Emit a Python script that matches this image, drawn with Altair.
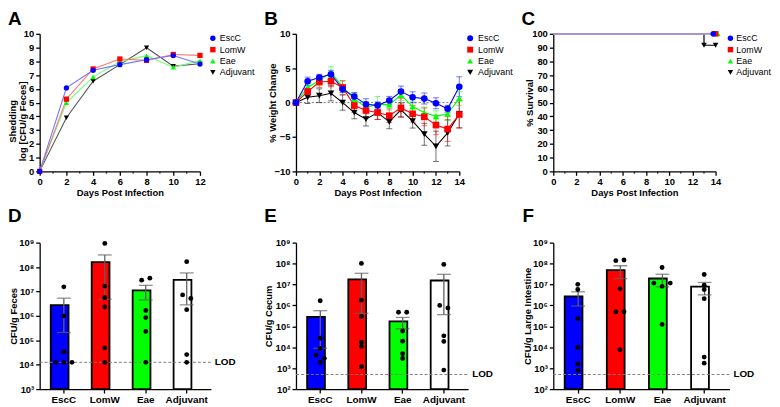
import altair as alt
import pandas as pd
import numpy as np

FONT = "Liberation Sans"
SERIES = ["EscC", "LomW", "Eae", "Adjuvant"]
COLORS = ["#0000ff", "#ff0000", "#00ff00", "#000000"]
LINE_COLORS = ["#7474ff", "#ff7474", "#74ff74", "#555555"]
LINE_COLORS_C = ["#8c8cff", "#ff8c8c", "#8cff8c", "#000000"]
BAR_FILLS = ["#0000ff", "#ff0000", "#00ff00", "#ffffff"]
SHAPES = ["circle", "square", "triangle-up", "triangle-down"]
DRAW_ORDER = ["Adjuvant", "Eae", "LomW", "EscC"]

# ---------------- Panel A: shedding (log CFU/g feces)
shed_days = [0, 2, 4, 6, 8, 10, 12]
shed_escc = [0, 6.07, 7.35, 7.76, 8.12, 8.42, 7.80]
shed_lomw = [0, 5.25, 7.45, 8.17, 8.07, 8.50, 8.43]
shed_eae = [0, 4.99, 6.87, 7.98, 8.41, 7.57, 8.05]
shed_adj = [0, 3.90, 6.55, 7.76, 8.99, 7.65, 7.82]
minor_days_a = [1, 3, 5, 7, 9, 11]

# ---------------- Panel B: % weight change (mean +/- SEM)
wt_days = list(range(15))
wt_escc = [0, 3.1, 3.65, 4.1, 1.97, 0.87, -0.24, -0.4, 0.3, 1.6, 0.77, 0.58, -0.1, -0.9, 2.3]
wt_escc_err = [0, 0.6, 0.45, 0.6, 0.5, 0.6, 0.8, 0.5, 0.6, 0.8, 0.8, 0.8, 0.8, 0.5, 1.45]
wt_lomw = [0, 1.6, 3.0, 3.1, 2.2, -0.43, -1.15, -1.45, -1.9, -0.77, -1.63, -2.07, -3.27, -3.85, -1.73]
wt_lomw_err = [0, 0.5, 0.8, 0.8, 1.0, 1.0, 1.0, 1.0, 1.0, 1.4, 1.2, 1.3, 1.4, 1.8, 2.0]
wt_eae = [0, 2.2, 3.2, 4.4, 2.3, 0.5, -0.67, -0.3, -0.3, 1.1, -0.58, -1.45, -2.0, -1.63, 0.6]
wt_eae_err = [0, 0.5, 0.7, 0.8, 0.8, 0.8, 0.8, 1.2, 0.8, 0.8, 0.8, 0.8, 0.8, 1.0, 1.0]
wt_adj = [0, 0.77, 1.0, 1.35, 0.0, -1.45, -2.4, -1.45, -2.8, -1.05, -2.7, -4.6, -6.35, -4.4, -1.65]
wt_adj_err = [0, 0.9, 1.0, 1.1, 1.1, 0.9, 1.0, 1.0, 1.0, 1.0, 1.0, 1.6, 2.2, 1.9, 2.0]
minor_days_b = [1, 3, 5, 7, 9, 11, 13]

# ---------------- Panel C: survival
surv_days = {"EscC": [0, 14], "LomW": [0, 14], "Eae": [0, 14], "Adjuvant": [0, 13, 14]}
surv_pct = {"EscC": [100, 100], "LomW": [100, 100], "Eae": [100, 100], "Adjuvant": [100, 91.7, 91.7]}
mark_series = ["Adjuvant", "Adjuvant", "Eae", "LomW", "EscC"]
mark_days = [13, 14, 14.2, 14.0, 13.8]
mark_pct = [91.7, 91.7, 100, 100, 100]

# ---------------- Panels D, E, F: CFU per animal
feces = {
    "EscC": [1.55e7, 1.0e6, 3.3e4, 1.25e4, 1.25e4, 1.25e4],
    "LomW": [9.3e8, 1.66e7, 5.5e6, 2.3e6, 4.9e4, 1.25e4],
    "Eae": [2.9e7, 3.5e7, 1.66e6, 8.5e5, 2.3e5, 1.25e4],
    "Adjuvant": [1.66e8, 7.2e6, 5.2e6, 1.8e6, 2.6e4, 1.25e4],
}
cecum = {
    "EscC": [1.66e6, 2.7e4, 8.7e3, 4.2e3, 2.95e3, 1.86e3],
    "LomW": [1.02e8, 1.78e6, 2.95e5, 1.74e4, 1.1e4, 1.17e3],
    "Eae": [4.7e5, 4.7e5, 6.0e4, 1.95e4, 4.9e3, 2.9e3],
    "Adjuvant": [9.1e7, 1.0e6, 7.6e5, 3.5e4, 1.9e4, 8.1e2],
}
large_int = {
    "EscC": [1.02e7, 5.75e6, 2.3e5, 9.8e3, 1.6e3, 7.6e2],
    "LomW": [1.38e8, 1.48e8, 6.2e6, 5.0e5, 5.0e5, 7.6e3],
    "Eae": [6.5e7, 1.17e7, 8.1e6, 1.17e7, 1.23e5],
    "Adjuvant": [3.0e7, 9.3e6, 5.75e6, 2.1e6, 3.4e3, 1.74e3],
}
lod_feces = 1.25e4
lod_cecum = 5.0e2
lod_li = 5.0e2

# ---------------- layout sizes
W_A, W_B, W_C = 162, 165, 164
W_D, W_E, W_F = 173, 174, 178
H1, H2 = 139, 148
LEG_ROWS = [4.5, 16, 27.5, 39]

sc_col = alt.Scale(domain=SERIES, range=COLORS)
sc_line = alt.Scale(domain=SERIES, range=LINE_COLORS)
sc_line_c = alt.Scale(domain=SERIES, range=LINE_COLORS_C)
sc_shape = alt.Scale(domain=SERIES, range=SHAPES)


def long_df(days, values, errs=None):
    rows = []
    for s in DRAW_ORDER:
        for i, d in enumerate(days):
            r = {"day": d, "val": values[s][i], "series": s}
            if errs is not None:
                r["err"] = errs[s][i]
                r["lo"] = values[s][i] - errs[s][i]
                r["hi"] = values[s][i] + errs[s][i]
            rows.append(r)
    return pd.DataFrame(rows)


def letter(ch, x, y):
    return alt.Chart(pd.DataFrame({"t": [ch]})).mark_text(
        align="left", baseline="top", fontSize=19, fontWeight="bold", font=FONT, color="black"
    ).encode(text="t:N", x=alt.value(x), y=alt.value(y))


def legend(W, sx, tx, size):
    out = []
    for i, s in enumerate(SERIES):
        d = pd.DataFrame({"s": [s]})
        out.append(alt.Chart(d).mark_point(
            filled=True, shape=SHAPES[i], size=size, color=COLORS[i], opacity=1, strokeWidth=0
        ).encode(x=alt.value(W + sx), y=alt.value(LEG_ROWS[i])))
        out.append(alt.Chart(d).mark_text(
            align="left", baseline="middle", fontSize=9, font=FONT, color="black"
        ).encode(text="s:N", x=alt.value(W + tx), y=alt.value(LEG_ROWS[i])))
    return out


def minor_ticks(days, xs, xax, H):
    return alt.Chart(pd.DataFrame({"day": days})).mark_tick(
        orient="vertical", size=2.5, thickness=1.3, color="black"
    ).encode(x=alt.X("day:Q", scale=xs, axis=xax), y=alt.value(H + 1.25))


def days_axis(maxd):
    return alt.Axis(values=list(range(0, maxd + 1, 2)), title="Days Post Infection",
                    titleY=21, titleBaseline="middle", labelPadding=1)


# ---------------- Panel A
xA = alt.Scale(domain=[0, 12], nice=False)
yA = alt.Scale(domain=[0, 10], nice=False)
axA_x = days_axis(12)
axA_y = alt.Axis(values=list(range(0, 11)), title=["Shedding", "log [CFU/g Feces]"],
                 titleX=-27, titleY=88, titleBaseline="middle", titleAlign="center", titleLineHeight=9.5)
dfA = long_df(shed_days, {"EscC": shed_escc, "LomW": shed_lomw, "Eae": shed_eae, "Adjuvant": shed_adj})
A_line = alt.Chart(dfA).mark_line(strokeWidth=1.1).encode(
    x=alt.X("day:Q", scale=xA, axis=axA_x),
    y=alt.Y("val:Q", scale=yA, axis=axA_y),
    stroke=alt.Stroke("series:N", scale=sc_line, legend=None),
)
A_pts = alt.Chart(dfA).mark_point(filled=True, size=28, opacity=1, strokeWidth=0).encode(
    x=alt.X("day:Q", scale=xA, axis=axA_x),
    y=alt.Y("val:Q", scale=yA, axis=axA_y),
    color=alt.Color("series:N", scale=sc_col, legend=None),
    shape=alt.Shape("series:N", scale=sc_shape, legend=None),
)
panelA = alt.layer(A_line, minor_ticks(minor_days_a, xA, axA_x, H1), A_pts,
                   *legend(W_A, 13, 20, 30), letter("A", -32, -24)).properties(width=W_A, height=H1)

# ---------------- Panel B
xB = alt.Scale(domain=[0, 14], nice=False)
yB = alt.Scale(domain=[-10, 10], nice=False)
axB_x = days_axis(14)
axB_y = alt.Axis(values=[-10, -5, 0, 5, 10], title="% Weight Change",
                 titleX=-24, titleY=H1 / 2, titleBaseline="middle", titleAlign="center")
dfB = long_df(wt_days,
              {"EscC": wt_escc, "LomW": wt_lomw, "Eae": wt_eae, "Adjuvant": wt_adj},
              {"EscC": wt_escc_err, "LomW": wt_lomw_err, "Eae": wt_eae_err, "Adjuvant": wt_adj_err})
dfB_err = dfB[dfB["err"] > 0]
B_zero = alt.Chart(pd.DataFrame({"val": [0]})).mark_rule(
    strokeDash=[2, 2], color="#777777", strokeWidth=1
).encode(y=alt.Y("val:Q", scale=yB, axis=axB_y), x=alt.value(0), x2=alt.value(W_B))
B_err = alt.Chart(dfB_err).mark_rule(strokeWidth=1, opacity=0.55).encode(
    x=alt.X("day:Q", scale=xB, axis=axB_x),
    y=alt.Y("lo:Q", scale=yB, axis=axB_y), y2="hi:Q",
    color=alt.Color("series:N", scale=sc_col, legend=None),
)
B_cap_lo = alt.Chart(dfB_err).mark_tick(orient="horizontal", size=6, thickness=1, opacity=0.55).encode(
    x=alt.X("day:Q", scale=xB, axis=axB_x),
    y=alt.Y("lo:Q", scale=yB, axis=axB_y),
    color=alt.Color("series:N", scale=sc_col, legend=None),
)
B_cap_hi = alt.Chart(dfB_err).mark_tick(orient="horizontal", size=6, thickness=1, opacity=0.55).encode(
    x=alt.X("day:Q", scale=xB, axis=axB_x),
    y=alt.Y("hi:Q", scale=yB, axis=axB_y),
    color=alt.Color("series:N", scale=sc_col, legend=None),
)
B_line = alt.Chart(dfB).mark_line(strokeWidth=1.1).encode(
    x=alt.X("day:Q", scale=xB, axis=axB_x),
    y=alt.Y("val:Q", scale=yB, axis=axB_y),
    color=alt.Color("series:N", scale=sc_col, legend=None),
)
B_pts = alt.Chart(dfB).mark_point(filled=True, size=45, opacity=1, strokeWidth=0).encode(
    x=alt.X("day:Q", scale=xB, axis=axB_x),
    y=alt.Y("val:Q", scale=yB, axis=axB_y),
    color=alt.Color("series:N", scale=sc_col, legend=None),
    shape=alt.Shape("series:N", scale=sc_shape, legend=None),
)
panelB = alt.layer(B_zero, B_err, B_cap_lo, B_cap_hi, B_line, minor_ticks(minor_days_b, xB, axB_x, H1), B_pts,
                   *legend(W_B, 11, 19, 36), letter("B", -32, -24)).properties(width=W_B, height=H1)

# ---------------- Panel C
xC = alt.Scale(domain=[0, 14], nice=False)
yC = alt.Scale(domain=[0, 100], nice=False)
axC_x = days_axis(14)
axC_y = alt.Axis(values=list(range(0, 101, 10)), title="% Survival",
                 titleX=-24, titleY=H1 / 2, titleBaseline="middle", titleAlign="center")
rowsC = []
for s in DRAW_ORDER:
    for d, p in zip(surv_days[s], surv_pct[s]):
        rowsC.append({"day": d, "pct": p, "series": s})
dfC = pd.DataFrame(rowsC)
dfCm = pd.DataFrame({"day": mark_days, "pct": mark_pct, "series": mark_series})
C_line = alt.Chart(dfC).mark_line(interpolate="step-after", strokeWidth=1.2).encode(
    x=alt.X("day:Q", scale=xC, axis=axC_x),
    y=alt.Y("pct:Q", scale=yC, axis=axC_y),
    stroke=alt.Stroke("series:N", scale=sc_line_c, legend=None),
)
C_pts = alt.Chart(dfCm).mark_point(filled=True, size=32, opacity=1, strokeWidth=0).encode(
    x=alt.X("day:Q", scale=xC, axis=axC_x),
    y=alt.Y("pct:Q", scale=yC, axis=axC_y),
    color=alt.Color("series:N", scale=sc_col, legend=None),
    shape=alt.Shape("series:N", scale=sc_shape, legend=None),
)
panelC = alt.layer(C_line, minor_ticks(minor_days_b, xC, axC_x, H1), C_pts,
                   *legend(W_C, 15, 21, 30), letter("C", -32, -24)).properties(width=W_C, height=H1)

# ---------------- Bar panels
SUP = ("'10' + ['\u2070','\u00b9','\u00b2','\u00b3','\u2074','\u2075','\u2076','\u2077','\u2078','\u2079']"
       "[round(log(datum.value)/LN10)]")


def dodge(vals, thr=0.17):
    logs = np.log10(np.array(vals, dtype=float))
    idx = list(np.argsort(logs, kind="stable"))
    offs = np.zeros(len(vals))
    clusters, cur = [], [idx[0]]
    for a, b in zip(idx[:-1], idx[1:]):
        if logs[b] - logs[a] < thr:
            cur.append(b)
        else:
            clusters.append(cur)
            cur = [b]
    clusters.append(cur)
    for c in clusters:
        c = sorted(c)
        n = len(c)
        for k, i in enumerate(c):
            offs[i] = k - (n - 1) / 2
    return offs


def bar_panel(vals, lod, ymin, W, H, title, title_x, ch, ch_x):
    rows = []
    for s in SERIES:
        offs = dodge(vals[s])
        for v, o in zip(vals[s], offs):
            rows.append({"series": s, "val": v, "off": o})
    pts = pd.DataFrame(rows)
    st = pts.groupby("series", sort=False)["val"].agg(["mean", "sem"]).reset_index()
    st["lo"] = np.maximum(st["mean"] - st["sem"], 10.0 ** ymin)
    st["hi"] = st["mean"] + st["sem"]
    st["base"] = 10.0 ** ymin

    ys = alt.Scale(type="log", domain=[10.0 ** ymin, 1e9])
    xs = alt.Scale(domain=SERIES, paddingInner=0.36, paddingOuter=0.27)
    ax_x = alt.Axis(title=None, labelAngle=0, labelFontSize=10, labelPadding=2)
    ax_y = alt.Axis(values=[10.0 ** k for k in range(ymin, 10)], labelExpr=SUP, title=title,
                    titleX=title_x, titleY=H / 2, titleBaseline="middle", titleAlign="center")
    X = alt.X("series:N", scale=xs, axis=ax_x)
    bars = alt.Chart(st).mark_bar(stroke="black", strokeWidth=1.8).encode(
        x=X,
        y=alt.Y("mean:Q", scale=ys, axis=ax_y),
        y2="base:Q",
        fill=alt.Fill("series:N", scale=alt.Scale(domain=SERIES, range=BAR_FILLS), legend=None),
    )
    lodd = pd.DataFrame({"lod": [lod]})
    lod_rule = alt.Chart(lodd).mark_rule(strokeDash=[3, 2], color="#808080", strokeWidth=1).encode(
        y=alt.Y("lod:Q", scale=ys, axis=ax_y), x=alt.value(0), x2=alt.value(W))
    lod_text = alt.Chart(lodd).mark_text(
        align="left", baseline="middle", fontSize=10, fontWeight="bold", font=FONT, color="black"
    ).encode(y=alt.Y("lod:Q", scale=ys, axis=ax_y), x=alt.value(W + 4), text=alt.value("LOD"))
    err = alt.Chart(st).mark_rule(color="#606060", strokeWidth=1.3).encode(
        x=X, y=alt.Y("lo:Q", scale=ys, axis=ax_y), y2="hi:Q")
    cap_lo = alt.Chart(st).mark_tick(orient="horizontal", size=14, thickness=1.3, color="#606060").encode(
        x=X, y=alt.Y("lo:Q", scale=ys, axis=ax_y))
    cap_hi = alt.Chart(st).mark_tick(orient="horizontal", size=14, thickness=1.3, color="#606060").encode(
        x=X, y=alt.Y("hi:Q", scale=ys, axis=ax_y))
    dots = alt.Chart(pts).mark_circle(size=24, color="black", opacity=1).encode(
        x=X,
        xOffset=alt.XOffset("off:Q", scale=alt.Scale(domain=[-1.6, 1.6])),
        y=alt.Y("val:Q", scale=ys, axis=ax_y))
    return alt.layer(bars, lod_rule, lod_text, err, cap_lo, cap_hi, dots,
                     letter(ch, ch_x, -36)).properties(width=W, height=H)


panelD = bar_panel(feces, lod_feces, 3, W_D, H2, "CFU/g Feces", -26, "D", -32)
panelE = bar_panel(cecum, lod_cecum, 2, W_E, H2, "CFU/g Cecum", -28, "E", -32)
panelF = bar_panel(large_int, lod_li, 2, W_F, H2, "CFU/g Large Intestine", -26, "F", -31)

chart = alt.concat(
    panelA, panelB, panelC, panelD, panelE, panelF,
    columns=3, spacing={"row": 72, "column": 86}, bounds="flush", align="each",
).resolve_scale(
    color="independent", stroke="independent", fill="independent", shape="independent"
).properties(padding=0).configure_view(strokeWidth=0).configure_axis(
    labelFont=FONT, labelFontSize=9.5, labelFontWeight="bold", labelColor="black",
    titleFont=FONT, titleFontSize=9.5, titleFontWeight="bold", titleColor="black",
    domainColor="black", domainWidth=1.3, tickColor="black", tickWidth=1.3, tickSize=4,
    grid=False, labelPadding=2, labelFlush=False,
).configure_text(font=FONT)

chart.save("out.html", embed_options={"renderer": "svg", "actions": False})
